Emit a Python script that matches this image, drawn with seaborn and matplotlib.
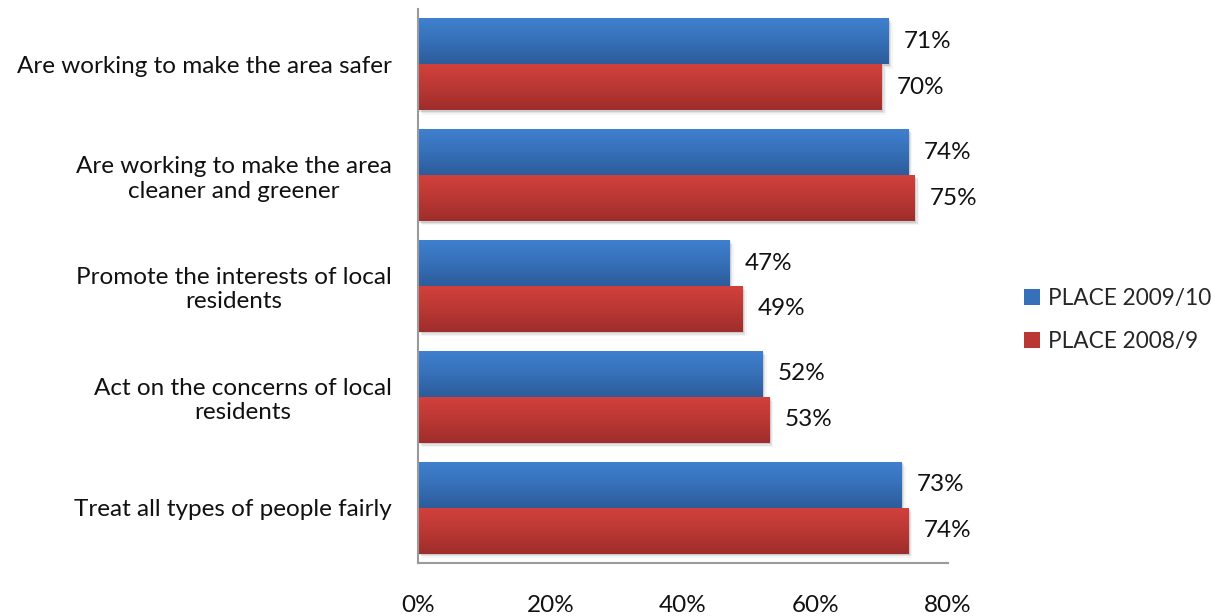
import numpy as np
import pandas as pd
import matplotlib
matplotlib.use("Agg")
import matplotlib.pyplot as plt
import matplotlib.transforms as mtransforms
from matplotlib.colors import LinearSegmentedColormap
from matplotlib.patches import Rectangle
import seaborn as sns

categories = [
    "Are working to make the area safer",
    "Are working to make the area\ncleaner and greener",
    "Promote the interests of local\nresidents",
    "Act on the concerns of local\nresidents",
    "Treat all types of people fairly",
]
series_names = ["PLACE 2009/10", "PLACE 2008/9"]
values_2009_10 = [71, 74, 47, 52, 73]
values_2008_9 = [70, 75, 49, 53, 74]
x_ticks = [0, 20, 40, 60, 80]

sns.set_theme(style="white")
plt.rcParams["font.family"] = ["Lato", "DejaVu Sans"]
FS = 17.5

df = pd.DataFrame({
    "category": categories * 2,
    "value": values_2009_10 + values_2008_9,
    "series": [series_names[0]] * 5 + [series_names[1]] * 5,
})

top_colors = {series_names[0]: "#3F80CF", series_names[1]: "#D2403C"}
bot_colors = {series_names[0]: "#2D5C9A", series_names[1]: "#9E2D2B"}
mid_colors = {series_names[0]: "#3670B8", series_names[1]: "#BA3834"}

fig = plt.figure(figsize=(12.22, 6.16), dpi=100)
ax = fig.add_axes([418 / 1222, 1 - 563 / 616, 530 / 1222, 554 / 616])

sns.barplot(data=df, y="category", x="value", hue="series",
            hue_order=series_names, order=categories, orient="h",
            palette=mid_colors, width=0.83, ax=ax, legend=False,
            edgecolor="none", saturation=1)

ax.set_xlim(0, 80)
ax.set_ylim(4.5, -0.5)

# Replace flat fills with vertical gradients plus a soft drop shadow
bars = [p for p in ax.patches if isinstance(p, Rectangle) and p.get_width() > 0]
grad = np.linspace(0, 1, 256).reshape(-1, 1)
for p in bars:
    x0, y0 = p.get_x(), p.get_y()
    w, h = p.get_width(), p.get_height()
    yc = y0 + h / 2
    series = series_names[0] if yc < round(yc) else series_names[1]
    cmap = LinearSegmentedColormap.from_list(
        "g", [top_colors[series], mid_colors[series], bot_colors[series]])
    for k, a in enumerate([0.10, 0.07, 0.04]):
        off = mtransforms.offset_copy(ax.transData, fig=fig,
                                      x=(k + 1) * 1.0, y=-(k + 1) * 1.0,
                                      units="points")
        ax.add_patch(Rectangle((x0, y0), w, h, transform=off,
                               facecolor="black", alpha=a, edgecolor="none",
                               zorder=1))
    ax.imshow(grad, extent=(x0, x0 + w, y0 + h, y0), aspect="auto",
              cmap=cmap, origin="upper", zorder=2, interpolation="bilinear")
    p.set_visible(False)
    ax.text(x0 + w + 2.3, yc, f"{int(round(w))}%", va="center", ha="left",
            fontsize=FS, color="#111111", zorder=3)

ax.set_xlim(0, 80)
ax.set_ylim(4.5, -0.5)

ax.set_xticks(x_ticks)
ax.set_xticklabels([f"{t}%" for t in x_ticks], fontsize=FS, color="#111111")
ax.tick_params(axis="x", length=0, pad=23)
ax.tick_params(axis="y", length=0, pad=19)
ax.set_yticks(range(len(categories)))
ax.set_yticklabels(categories, fontsize=FS, color="#111111",
                   multialignment="center")
ax.set_xlabel("")
ax.set_ylabel("")

for side in ["top", "right"]:
    ax.spines[side].set_visible(False)
for side in ["left", "bottom"]:
    ax.spines[side].set_color("#9A9A9A")
    ax.spines[side].set_linewidth(1.5)

handles = [Rectangle((0, 0), 1, 1, facecolor=mid_colors[s], edgecolor="none")
           for s in series_names]
fig.legend(handles, series_names, loc="center left",
           bbox_to_anchor=(1024 / 1222, 1 - 320 / 616), frameon=False,
           fontsize=16.3, handlelength=0.7, handleheight=0.7,
           handletextpad=0.35, labelspacing=0.95, borderpad=0,
           borderaxespad=0)

fig.savefig("out.png", dpi=100)
